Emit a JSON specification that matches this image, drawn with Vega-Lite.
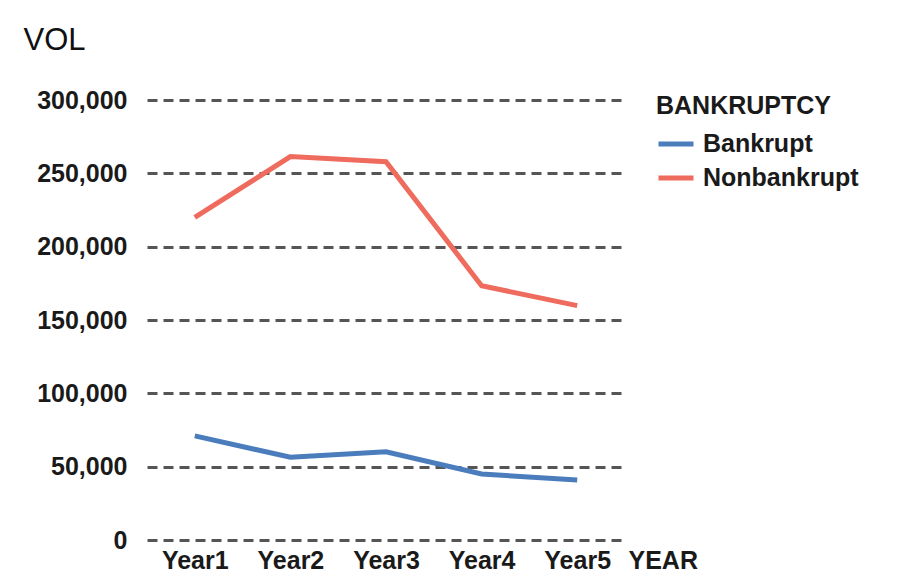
{
  "$schema": "https://vega.github.io/schema/vega-lite/v6.json",
  "width": 478,
  "height": 440,
  "autosize": {"type": "none"},
  "padding": {"left": 147, "top": 100, "right": 276, "bottom": 39},
  "background": "white",
  "config": {
    "view": {"stroke": null},
    "font": "Liberation Sans"
  },
  "data": {
    "values": [
      {"YEAR": "Year1", "BANKRUPTCY": "Bankrupt", "VOL": 71000},
      {"YEAR": "Year2", "BANKRUPTCY": "Bankrupt", "VOL": 56400},
      {"YEAR": "Year3", "BANKRUPTCY": "Bankrupt", "VOL": 60200},
      {"YEAR": "Year4", "BANKRUPTCY": "Bankrupt", "VOL": 45000},
      {"YEAR": "Year5", "BANKRUPTCY": "Bankrupt", "VOL": 40900},
      {"YEAR": "Year1", "BANKRUPTCY": "Nonbankrupt", "VOL": 220000},
      {"YEAR": "Year2", "BANKRUPTCY": "Nonbankrupt", "VOL": 261400},
      {"YEAR": "Year3", "BANKRUPTCY": "Nonbankrupt", "VOL": 257900},
      {"YEAR": "Year4", "BANKRUPTCY": "Nonbankrupt", "VOL": 173400},
      {"YEAR": "Year5", "BANKRUPTCY": "Nonbankrupt", "VOL": 159800}
    ]
  },
  "mark": {"type": "line", "strokeWidth": 5, "strokeJoin": "miter", "strokeCap": "butt"},
  "encoding": {
    "x": {
      "field": "YEAR",
      "type": "ordinal",
      "scale": {"type": "point", "padding": 0.5},
      "axis": {
        "domain": false,
        "ticks": false,
        "grid": false,
        "labelAngle": 0,
        "labelFontSize": 25,
        "labelFontWeight": "bold",
        "labelColor": "#1a1a1a",
        "labelPadding": 8,
        "title": "YEAR",
        "titleFontSize": 25,
        "titleFontWeight": "bold",
        "titleColor": "#1a1a1a",
        "titleX": 481,
        "titleY": 28,
        "titleAlign": "left",
        "titleBaseline": "alphabetic"
      }
    },
    "y": {
      "field": "VOL",
      "type": "quantitative",
      "scale": {"domain": [0, 300000], "nice": false},
      "axis": {
        "values": [0, 50000, 100000, 150000, 200000, 250000, 300000],
        "format": ",d",
        "domain": false,
        "ticks": false,
        "grid": true,
        "gridColor": "#555555",
        "gridWidth": 3,
        "gridDash": [10, 6],
        "gridOpacity": 1,
        "labelFontSize": 25,
        "labelFontWeight": "bold",
        "labelColor": "#1a1a1a",
        "labelPadding": 20,
        "title": "VOL",
        "titleAngle": 0,
        "titleFontSize": 31,
        "titleFontWeight": "normal",
        "titleColor": "#111111",
        "titleX": -124,
        "titleY": -51,
        "titleAlign": "left",
        "titleBaseline": "alphabetic"
      }
    },
    "color": {
      "field": "BANKRUPTCY",
      "type": "nominal",
      "scale": {"domain": ["Bankrupt", "Nonbankrupt"], "range": ["#4b7dbd", "#ef6b5d"]},
      "legend": {
        "orient": "none",
        "legendX": 509,
        "legendY": -6,
        "padding": 0,
        "title": "BANKRUPTCY",
        "titleFontSize": 25,
        "titleFontWeight": "bold",
        "titleColor": "#1a1a1a",
        "titlePadding": 5,
        "labelFontSize": 25,
        "labelFontWeight": "bold",
        "labelColor": "#1a1a1a",
        "labelOffset": 7,
        "rowPadding": 1,
        "symbolType": "stroke",
        "symbolStrokeWidth": 5,
        "symbolSize": 1225
      }
    }
  }
}
